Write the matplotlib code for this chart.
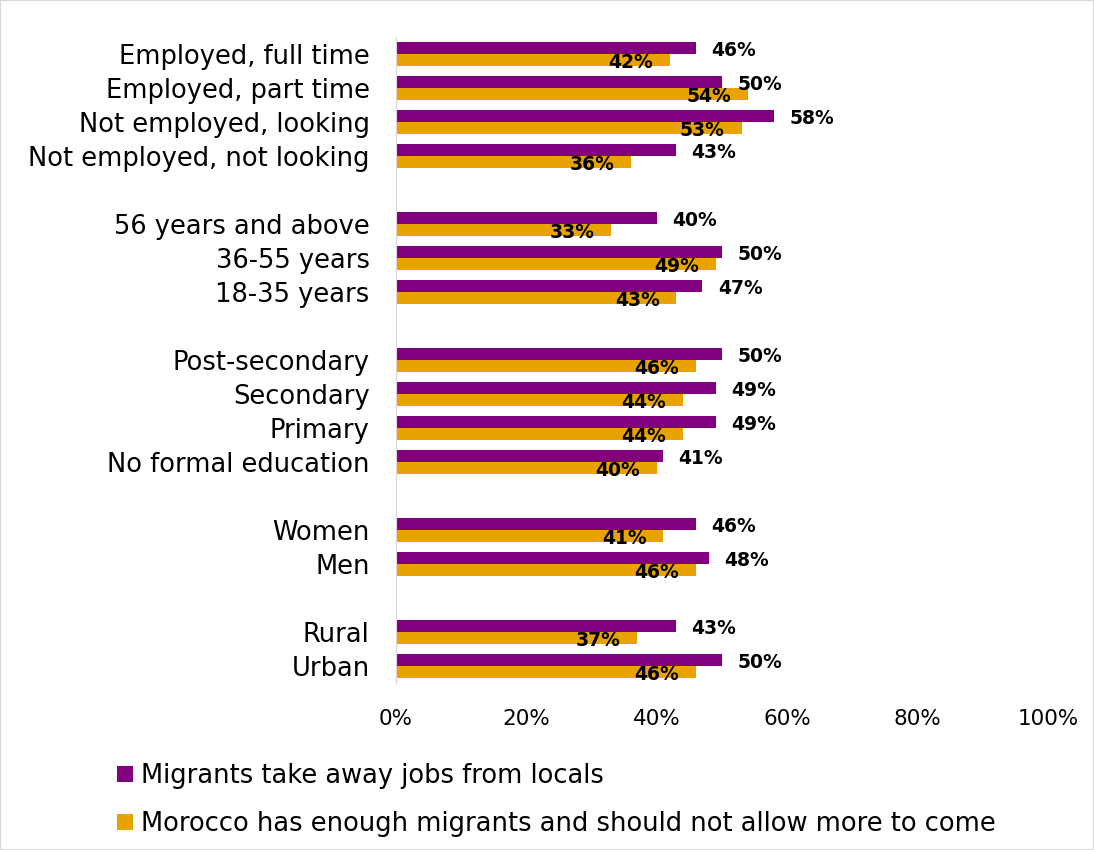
import matplotlib.pyplot as plt
from matplotlib.patches import Rectangle

# ==============================
# DATA (None = empty gap row)
# ==============================
categories = ["Employed, full time", "Employed, part time", "Not employed, looking",
              "Not employed, not looking", None,
              "56 years and above", "36-55 years", "18-35 years", None,
              "Post-secondary", "Secondary", "Primary", "No formal education", None,
              "Women", "Men", None,
              "Rural", "Urban"]
take_jobs = [46, 50, 58, 43, None, 40, 50, 47, None, 50, 49, 49, 41, None, 46, 48, None, 43, 50]
enough_migrants = [42, 54, 53, 36, None, 33, 49, 43, None, 46, 44, 44, 40, None, 41, 46, None, 37, 46]
series_names = ["Migrants take away jobs from locals",
                "Morocco has enough migrants and should not allow more to come"]
x_ticks = [0, 20, 40, 60, 80, 100]

PURPLE = "#800080"
ORANGE = "#E8A202"

plt.rcParams["font.family"] = ["DejaVu Sans"]

fig = plt.figure(figsize=(10.94, 8.5), dpi=100)
ax = fig.add_axes([0.362, 0.1965, 0.596, 0.76])

bh = 0.35
rows = [i for i, c in enumerate(categories) if c is not None]
p_vals = [take_jobs[i] for i in rows]
o_vals = [enough_migrants[i] for i in rows]

ax.barh([r - bh / 2 for r in rows], p_vals, height=bh, color=PURPLE, label=series_names[0])
ax.barh([r + bh / 2 for r in rows], o_vals, height=bh, color=ORANGE, label=series_names[1])

for r, p, o in zip(rows, p_vals, o_vals):
    ax.annotate(f"{p}%", (p, r - bh / 2), xytext=(11, -2), textcoords="offset points",
                ha="left", va="center", fontsize=13.5, fontweight="bold")
    ax.annotate(f"{o}%", (o, r + bh / 2), xytext=(-12, -2), textcoords="offset points",
                ha="right", va="center", fontsize=13.5, fontweight="bold")

ax.set_yticks(rows)
ax.set_yticklabels([categories[i] for i in rows], fontsize=18.5)
ax.set_ylim(18.5, -0.5)
ax.set_xlim(0, 100)
ax.set_xticks(x_ticks)
ax.set_xticklabels([f"{t}%" for t in x_ticks], fontsize=15.5)
ax.tick_params(axis="y", length=0, pad=19)
ax.tick_params(axis="x", length=0, pad=19)
for s in ["top", "right", "bottom"]:
    ax.spines[s].set_visible(False)
ax.spines["left"].set_color("#d9d9d9")

fig.legend(loc="upper left", bbox_to_anchor=(0.098, 0.114), frameon=False, fontsize=18.5,
           handlelength=0.6, handleheight=0.6, handletextpad=0.3, labelspacing=0.85,
           borderaxespad=0)

fig.patches.append(Rectangle((0, 0), 1, 1, transform=fig.transFigure, fill=False,
                             edgecolor="#d9d9d9", linewidth=1.5))

plt.savefig("out.png", dpi=100)
